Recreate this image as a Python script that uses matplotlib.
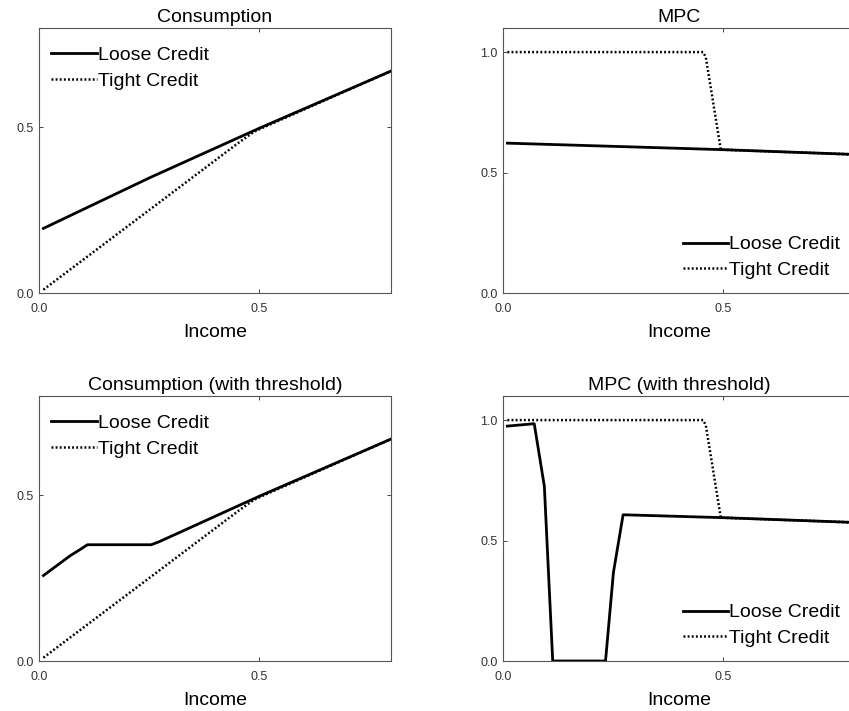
import matplotlib
matplotlib.use("Agg")
import matplotlib.pyplot as plt

plt.rcParams['font.family'] = ['Liberation Sans', 'DejaVu Sans']

# ---- data ----
cons_loose_x = [0.01, 0.25, 0.5, 0.8]
cons_loose_y = [0.195, 0.347, 0.497, 0.67]
cons_tight_x = [0.01, 0.455, 0.49, 0.8]
cons_tight_y = [0.01, 0.455, 0.488, 0.67]

mpc_loose_x = [0.01, 0.5, 0.8]
mpc_loose_y = [0.622, 0.595, 0.575]
mpc_tight_x = [0.01, 0.455, 0.461, 0.495, 0.8]
mpc_tight_y = [1.0, 1.0, 0.978, 0.595, 0.575]

cons_thr_loose_x = [0.01, 0.071, 0.094, 0.11, 0.255, 0.273, 0.5, 0.8]
cons_thr_loose_y = [0.258, 0.318, 0.337, 0.351, 0.351, 0.36, 0.497, 0.67]
cons_thr_tight_x = [0.01, 0.455, 0.49, 0.8]
cons_thr_tight_y = [0.01, 0.455, 0.488, 0.67]

mpc_thr_loose_x = [0.01, 0.071, 0.094, 0.113, 0.233, 0.251, 0.273, 0.5, 0.8]
mpc_thr_loose_y = [0.975, 0.985, 0.725, 0.0, 0.0, 0.368, 0.607, 0.595, 0.575]
mpc_thr_tight_x = [0.01, 0.455, 0.461, 0.495, 0.8]
mpc_thr_tight_y = [1.0, 1.0, 0.978, 0.595, 0.575]

titles = ["Consumption", "MPC", "Consumption (with threshold)", "MPC (with threshold)"]
labels = ["Loose Credit", "Tight Credit"]
xticks = [0.0, 0.5]
cons_yticks = [0.0, 0.5]
mpc_yticks = [0.0, 0.5, 1.0]

W, H = 849, 711
fig = plt.figure(figsize=(W / 100, H / 100), dpi=100)

def px_axes(left, top, width, height):
    return fig.add_axes([left / W, (H - top - height) / H, width / W, height / H])

axes_pos = [
    (39, 28, 352, 265),
    (503, 28, 352, 265),
    (39, 396, 352, 265),
    (503, 396, 352, 265),
]

series = [
    (cons_loose_x, cons_loose_y, cons_tight_x, cons_tight_y, cons_yticks, 0.8, 'upper'),
    (mpc_loose_x, mpc_loose_y, mpc_tight_x, mpc_tight_y, mpc_yticks, 1.1, 'lower'),
    (cons_thr_loose_x, cons_thr_loose_y, cons_thr_tight_x, cons_thr_tight_y, cons_yticks, 0.8, 'upper'),
    (mpc_thr_loose_x, mpc_thr_loose_y, mpc_thr_tight_x, mpc_thr_tight_y, mpc_yticks, 1.1, 'lower'),
]

spine_col = '#262626'
for pos, title, (lx, ly, tx, ty, yt, ymax, legpos) in zip(axes_pos, titles, series):
    ax = px_axes(*pos)
    ax.plot(tx, ty, color='black', lw=1.8, linestyle=(0, (0.75, 0.9)), label=labels[1], zorder=2)
    ax.plot(lx, ly, color='black', lw=2.0, label=labels[0], zorder=3)
    ax.set_xlim(0, 0.8)
    ax.set_ylim(0, ymax)
    ax.set_xticks(xticks)
    ax.set_xticklabels([f"{v:.1f}" for v in xticks])
    ax.set_yticks(yt)
    ax.set_yticklabels([f"{v:.1f}" for v in yt])
    ax.tick_params(direction='in', length=3, width=0.6, top=True, right=True,
                   labelsize=9, colors=spine_col, labelcolor='#333333')
    ax.tick_params(axis='x', pad=7)
    ax.tick_params(axis='y', pad=4)
    for s in ax.spines.values():
        s.set_color('#555555')
        s.set_linewidth(0.8)
    ax.set_title(title, fontsize=14, pad=4)
    ax.set_xlabel("Income", fontsize=14, labelpad=7)
    h, l = ax.get_legend_handles_labels()
    h, l = h[::-1], l[::-1]
    if legpos == 'upper':
        ax.legend(h, l, loc='upper left', bbox_to_anchor=(0.035, 0.93), frameon=False,
                  fontsize=14, handlelength=2.35, handletextpad=0.05,
                  borderpad=0, borderaxespad=0, labelspacing=0.41)
    else:
        ax.legend(h, l, loc='lower left', bbox_to_anchor=(0.51, 0.053), frameon=False,
                  fontsize=14, handlelength=2.35, handletextpad=0.05,
                  borderpad=0, borderaxespad=0, labelspacing=0.41)

fig.savefig("out.png", dpi=100)
